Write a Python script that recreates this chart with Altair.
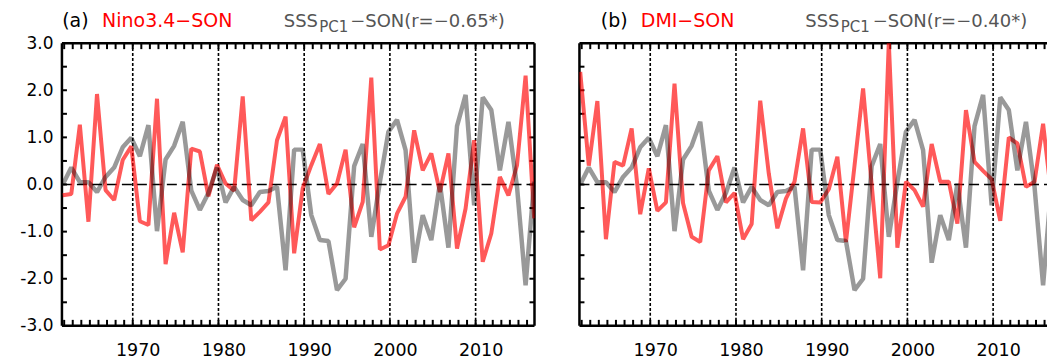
import altair as alt
import pandas as pd

# ---------------- data ----------------
years = list(range(1961, 2017))

nino34_son = [
    -0.23, -0.20, 1.27, -0.79, 1.92, -0.12, -0.33, 0.52, 0.81,
    -0.78, -0.86, 1.82, -1.69, -0.60, -1.44, 0.76, 0.70, -0.25, 0.42,
    0.02, -0.13, 1.87, -0.76, -0.58, -0.38, 0.94, 1.44, -1.46, -0.08,
    0.41, 0.86, -0.20, 0.02, 0.74, -0.91, -0.37, 2.27, -1.38, -1.29,
    -0.62, -0.26, 1.15, 0.30, 0.66, -0.16, 0.66, -1.36, -0.51, 0.94,
    -1.64, -1.04, 0.16, -0.23, 0.41, 2.31, -0.72,
]

dmi_son = [
    2.39, 0.40, 1.77, -1.16, 0.48, 0.40, 1.19, -0.63, 0.34,
    -0.56, -0.38, 2.14, -0.40, -1.11, -1.22, 0.30, 0.60, -0.38, -0.18,
    -1.16, -0.84, 1.78, 0.23, -0.93, -0.30, 0.06, 1.19, -0.37, -0.38,
    -0.10, 0.59, -1.22, 0.40, 2.04, 0.00, -1.99, 3.02, -1.34, 0.06,
    -0.12, -0.47, 0.86, 0.06, 0.06, -0.83, 1.58, 0.48, 0.29, 0.11,
    -0.77, 1.00, 0.87, -0.05, 0.06, 1.29, -0.30,
]

sss_pc1_son = [
    0.00, 0.36, 0.05, 0.05, -0.16, 0.16, 0.36, 0.79, 0.99,
    0.60, 1.26, -0.99, 0.53, 0.82, 1.33, -0.13, -0.54, -0.18, 0.36,
    -0.38, -0.05, -0.33, -0.44, -0.16, -0.14, -0.05, -1.82, 0.74, 0.74,
    -0.65, -1.18, -1.20, -2.24, -2.00, 0.39, 0.86, -1.11, 0.05, 1.12,
    1.37, 0.73, -1.66, -0.65, -1.18, 0.02, -1.34, 1.24, 1.90, -0.44,
    1.85, 1.58, 0.30, 1.33, -0.05, -2.14, 0.06,
]

decades = [1970, 1980, 1990, 2000, 2010]
year_ticks = list(range(1962, 2017))
y_minor = [-2.5, -2.0, -1.5, -1.0, -0.5, 0.0, 0.5, 1.0, 1.5, 2.0, 2.5]
y_labels = [-3, -2, -1, 0, 1, 2, 3]

# ---------------- layout / style constants ----------------
FONT = "DejaVu Sans"
SON = 0.83                 # SON season plotted at Oct of each year
XMIN = 1961.74
PXY = 8.58                 # pixels per year
W_A = 473
W_B = 468
XMAX_A = XMIN + W_A / PXY
XMAX_B = XMIN + W_B / PXY
H = 283
YMIN, YMAX = -3.0, 3.0
TLX = 6 / H * (YMAX - YMIN)   # x-tick length in data units
TLY = 5 / PXY                 # y-tick length in data units
RED = "#ff0000"
GRAYTXT = "#555555"


def txt(s, px, py, color, size):
    return alt.Chart(pd.DataFrame({"t": [s]})).mark_text(
        align="left", baseline="alphabetic", font=FONT,
        fontSize=size, color=color
    ).encode(x=alt.value(px), y=alt.value(py), text="t:N")


def panel(red_vals, xmax, width, ylabels, right_frame, tag, name, r_txt, offs):
    xs = alt.Scale(domain=[XMIN, xmax], nice=False, zero=False)
    ys = alt.Scale(domain=[YMIN, YMAX], nice=False, zero=False)
    xaxis = alt.Axis(values=decades, format="d", title=None, ticks=False,
                     tickSize=0, domain=False, grid=False, labelFontSize=17.5,
                     labelFont=FONT, labelColor="black", labelPadding=16,
                     labelOffset=5)
    if ylabels:
        yaxis = alt.Axis(values=y_labels, title=None, ticks=False, tickSize=0,
                         domain=False, grid=False, labelFontSize=17,
                         labelFont=FONT, labelColor="black", labelPadding=9,
                         labelExpr="datum.value < 0 ? '-' + format(-datum.value, '.1f') : format(datum.value, '.1f')")
    else:
        yaxis = None

    X = lambda f: alt.X(f"{f}:Q", scale=xs, axis=xaxis)
    Y = lambda f: alt.Y(f"{f}:Q", scale=ys, axis=yaxis)

    xv = [y + SON for y in years]
    red_df = pd.DataFrame({"x": xv, "v": red_vals})
    gray_df = pd.DataFrame({"x": xv, "v": sss_pc1_son})

    # decade dotted lines, year ticks (bottom/top), value ticks (left/right)
    dec_df = pd.DataFrame({"x": decades, "v": YMIN, "v2": YMAX})
    xtb = pd.DataFrame({"x": year_ticks, "v": YMIN, "v2": YMIN + TLX})
    xtt = pd.DataFrame({"x": year_ticks, "v": YMAX, "v2": YMAX - TLX})
    ytl = pd.DataFrame({"v": y_minor, "x": XMIN, "x2": XMIN + TLY})
    ytr = pd.DataFrame({"v": y_minor, "x": xmax, "x2": xmax - TLY})
    zero_df = pd.DataFrame({"v": [0.0], "x": [XMIN], "x2": [xmax]})
    hframe = pd.DataFrame({"v": [YMIN, YMAX], "x": XMIN, "x2": xmax})
    vframe = pd.DataFrame({"x": [XMIN, xmax] if right_frame else [XMIN],
                           "v": YMIN, "v2": YMAX})

    def vrule(df, **kw):
        return alt.Chart(df).mark_rule(**kw).encode(
            x=X("x"), y=Y("v"), y2=alt.Y2("v2"))

    def hrule(df, **kw):
        return alt.Chart(df).mark_rule(**kw).encode(
            y=Y("v"), x=X("x"), x2=alt.X2("x2"))

    layers = [
        vrule(dec_df, color="black", strokeWidth=1.6, strokeDash=[3, 2]),
        hrule(zero_df, color="black", strokeWidth=1.6, strokeDash=[10, 5]),
        vrule(xtb, color="black", strokeWidth=2),
        vrule(xtt, color="black", strokeWidth=2),
        hrule(ytl, color="black", strokeWidth=2),
    ]
    if right_frame:
        layers.append(hrule(ytr, color="black", strokeWidth=2))
    layers.append(hrule(hframe, color="black", strokeWidth=2.5))
    layers.append(vrule(vframe, color="black", strokeWidth=2.5))

    layers.append(alt.Chart(red_df).mark_line(color=RED, opacity=0.65,
                                              strokeWidth=4, strokeJoin="bevel",
                                              clip=True).encode(x=X("x"), y=Y("v")))
    layers.append(alt.Chart(gray_df).mark_line(color="black", opacity=0.4,
                                               strokeWidth=4.5, strokeJoin="bevel",
                                               clip=True).encode(x=X("x"), y=Y("v")))
    o = offs
    layers.append(txt(tag, o[0], -15.7, "black", 19))
    layers.append(txt(name, o[1], -15.7, RED, 19))
    layers.append(txt("SSS", o[2], -15.7, GRAYTXT, 18))
    layers.append(txt("PC1", o[3], -11.0, GRAYTXT, 15))
    layers.append(txt(r_txt, o[4], -15.7, GRAYTXT, 18))

    return alt.layer(*layers).properties(width=width, height=H)


pa = panel(nino34_son, XMAX_A, W_A, True, True, "(a)", "Nino3.4\u2212SON",
           "\u2212SON(r=\u22120.65*)", [0.2, 40.2, 222.0, 257.5, 288.5])
pb = panel(dmi_son, XMAX_B, W_B, False, False, "(b)", "DMI\u2212SON",
           "\u2212SON(r=\u22120.40*)", [21.4, 61.4, 226.0, 261.5, 293.5])

chart = alt.hconcat(pa, pb, spacing=45, bounds="flush").properties(
    padding={"left": 19, "top": 12, "right": 0, "bottom": 0},
    background="white",
).configure_view(stroke=None)

chart.save("out.html", embed_options={"renderer": "svg", "actions": False})
